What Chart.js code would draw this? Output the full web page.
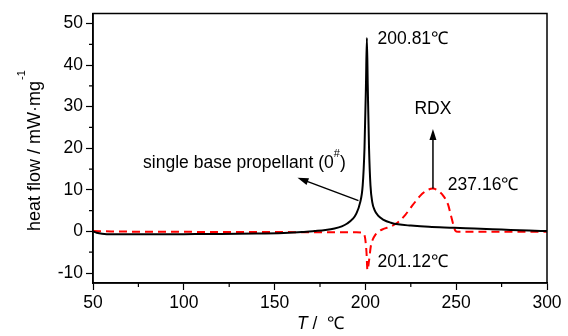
<!DOCTYPE html>
<html>
<head>
<meta charset="utf-8">
<script src="https://cdn.jsdelivr.net/npm/chart.js@4.4.1/dist/chart.umd.min.js"></script>
<style>
  html, body { margin: 0; padding: 0; background: #fff; }
  #wrap { width: 568px; height: 336px; }
</style>
</head>
<body>
<div id="wrap"><canvas id="dscChart" width="568" height="336"></canvas></div>
<script>
// single base propellant (0#), black solid curve
const propT = [50, 52, 55, 60, 80, 100, 120, 140, 155, 165, 172, 178, 183, 187, 190, 193, 195, 197, 198.5, 199.5, 200.3, 200.81, 201.3, 202, 202.8, 203.8, 205, 207, 210, 214, 218, 225, 235, 249, 260, 275, 290, 300];
const propHF = [0, -0.3, -0.55, -0.7, -0.7, -0.65, -0.6, -0.5, -0.35, -0.15, 0.1, 0.35, 0.7, 1.2, 1.9, 3.0, 4.3, 6.8, 11, 20, 35, 46.5, 35, 20, 11, 7, 5.2, 3.8, 2.8, 2.1, 1.7, 1.4, 1.1, 0.9, 0.7, 0.45, 0.2, 0.1];

// RDX, red dashed curve
const rdxT = [50, 60, 100, 150, 185, 195, 198.5, 199.8, 200.6, 201.12, 202, 203, 204, 205.5, 207, 210, 214, 218, 222, 226, 230, 234, 237.16, 240, 243, 245.5, 247, 248.5, 249.5, 251, 260, 280, 300];
const rdxHF = [0.1, 0, -0.1, -0.15, -0.2, -0.2, -0.3, -1.5, -5, -9.3, -7, -3.5, -2, -0.8, -0.1, 0.6, 1.2, 2.2, 4.0, 6.3, 8.5, 9.9, 10.3, 9.8, 8.5, 6.5, 4, 1.5, 0.2, -0.1, -0.1, -0.1, -0.1];

const xTicks = [50, 100, 150, 200, 250, 300];
const yTicks = [-10, 0, 10, 20, 30, 40, 50];

// annotation texts, anchored in data units [T, heat flow]
const labelTexts = ["200.81\u2103", "RDX", "237.16\u2103", "201.12\u2103"];
const labelPos = [[206.7, 46.2], [237.2, 29.3], [245.4, 11.2], [206.7, -7.4]];
const labelAlign = ["left", "center", "left", "left"];

// arrows [fromT, fromHF, toT, toHF]
const arrows = [[237.2, 10.3, 237.2, 24.6], [196.2, 7.4, 162.6, 12.9]];

const toXY = (xs, ys) => xs.map((x, i) => ({ x: x, y: ys[i] }));

const FONT = '"Liberation Sans", Arial, sans-serif';

const extras = {
    id: 'extras',
    afterDraw(chart) {
        const c = chart.ctx;
        const xs = chart.scales.x, ys = chart.scales.y;
        const a = chart.chartArea;
        c.save();
        // frame top/right
        c.strokeStyle = '#000';
        c.lineWidth = 1.5;
        c.strokeRect(a.left, a.top, a.right - a.left, a.bottom - a.top);

        // minor ticks
        c.lineWidth = 1.2;
        c.beginPath();
        for (let t = 75; t < 300; t += 50) {
            const px = xs.getPixelForValue(t);
            c.moveTo(px, a.bottom);
            c.lineTo(px, a.bottom + 4);
        }
        for (let v = -5; v < 52; v += 10) {
            const py = ys.getPixelForValue(v);
            c.moveTo(a.left, py);
            c.lineTo(a.left - 4, py);
        }
        c.stroke();

        // annotation texts
        c.fillStyle = '#000';
        c.font = '17.5px ' + FONT;
        c.textBaseline = 'middle';
        labelTexts.forEach((t, i) => {
            c.textAlign = labelAlign[i];
            c.fillText(t, xs.getPixelForValue(labelPos[i][0]), ys.getPixelForValue(labelPos[i][1]));
        });

        // propellant label with superscript #
        c.textAlign = 'left';
        let px = xs.getPixelForValue(77.6), py = ys.getPixelForValue(16.4);
        const s1 = 'single base propellant (0';
        c.fillText(s1, px, py);
        px += c.measureText(s1).width;
        c.font = '11px ' + FONT;
        c.fillText('#', px, py - 9);
        px += c.measureText('#').width;
        c.font = '17.5px ' + FONT;
        c.fillText(')', px, py);

        // arrows
        c.lineWidth = 1.5;
        arrows.forEach(ar => {
            const x1 = xs.getPixelForValue(ar[0]), y1 = ys.getPixelForValue(ar[1]);
            const x2 = xs.getPixelForValue(ar[2]), y2 = ys.getPixelForValue(ar[3]);
            const ang = Math.atan2(y2 - y1, x2 - x1);
            c.beginPath();
            c.moveTo(x1, y1);
            c.lineTo(x2 - 6 * Math.cos(ang), y2 - 6 * Math.sin(ang));
            c.stroke();
            c.beginPath();
            c.moveTo(x2, y2);
            c.lineTo(x2 - 11 * Math.cos(ang) + 3.5 * Math.sin(ang), y2 - 11 * Math.sin(ang) - 3.5 * Math.cos(ang));
            c.lineTo(x2 - 11 * Math.cos(ang) - 3.5 * Math.sin(ang), y2 - 11 * Math.sin(ang) + 3.5 * Math.cos(ang));
            c.closePath();
            c.fill();
        });

        // y axis title (rotated) with superscript -1
        c.save();
        c.translate(40, 156);
        c.rotate(-Math.PI / 2);
        c.font = '18px ' + FONT;
        c.textAlign = 'center';
        c.textBaseline = 'alphabetic';
        const yt = 'heat flow / mW\u00b7mg';
        const w = c.measureText(yt).width;
        c.fillText(yt, 0, 0);
        c.font = '11px ' + FONT;
        c.textAlign = 'left';
        c.fillText('-1', w / 2 + 1, -15);
        c.restore();

        // x axis title: italic T
        c.textBaseline = 'middle';
        c.textAlign = 'left';
        c.font = 'italic 17.5px ' + FONT;
        let tx = 297;
        c.fillText('T', tx, 324);
        tx += c.measureText('T').width;
        c.font = '17.5px ' + FONT;
        c.fillText(' /  \u2103', tx, 324);
        c.restore();
    }
};

new Chart(document.getElementById('dscChart').getContext('2d'), {
    type: 'line',
    data: {
        datasets: [
            {
                label: 'single base propellant (0#)',
                data: toXY(propT, propHF),
                borderColor: '#000',
                borderWidth: 2,
                pointRadius: 0,
                fill: false,
                cubicInterpolationMode: 'monotone'
            },
            {
                label: 'RDX',
                data: toXY(rdxT, rdxHF),
                borderColor: '#ff0000',
                borderWidth: 2,
                borderDash: [8, 5],
                pointRadius: 0,
                fill: false,
                cubicInterpolationMode: 'monotone'
            }
        ]
    },
    options: {
        responsive: false,
        animation: false,
        layout: { padding: { left: 0, top: 11, right: 21, bottom: 0 } },
        plugins: {
            legend: { display: false },
            tooltip: { enabled: false }
        },
        scales: {
            x: {
                type: 'linear',
                min: 50,
                max: 300,
                afterFit(scale) { scale.height = 53; },
                afterBuildTicks(scale) { scale.ticks = xTicks.map(v => ({ value: v })); },
                border: { display: true, color: '#000', width: 1.5 },
                grid: { drawOnChartArea: false, drawTicks: true, tickLength: 7, tickColor: '#000', tickWidth: 1.2 },
                ticks: { color: '#000', font: { family: FONT, size: 17.5 }, padding: 3, maxRotation: 0 }
            },
            y: {
                type: 'linear',
                min: -12.4,
                max: 52.4,
                afterFit(scale) { scale.width = 93; },
                afterBuildTicks(scale) { scale.ticks = yTicks.map(v => ({ value: v })); },
                border: { display: true, color: '#000', width: 1.5 },
                grid: { drawOnChartArea: false, drawTicks: true, tickLength: 7, tickColor: '#000', tickWidth: 1.2 },
                ticks: { color: '#000', font: { family: FONT, size: 17.5 }, padding: 3 }
            }
        }
    },
    plugins: [extras]
});
</script>
</body>
</html>
